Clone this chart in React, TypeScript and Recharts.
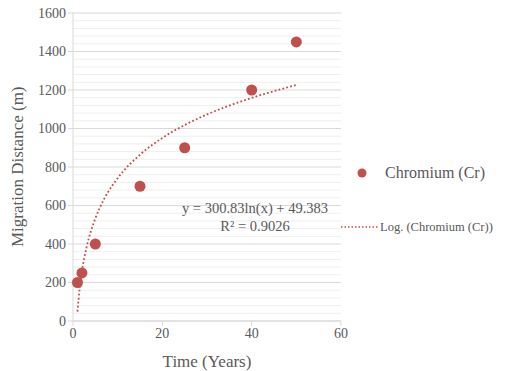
import React from "react";
import {
  ComposedChart,
  Scatter,
  Line,
  XAxis,
  YAxis,
  CartesianGrid,
  ReferenceLine,
} from "recharts";

const years = [1, 2, 5, 15, 25, 40, 50];
const distances = [200, 250, 400, 700, 900, 1200, 1450];

// log trendline
const trendYears = [1, 1.5, 2, 3, 4, 5, 7, 10, 15, 20, 25, 30, 35, 40, 45, 50];
const trendDistances = [49, 171, 258, 380, 466, 533, 635, 742, 864, 951, 1018, 1073, 1119, 1159, 1194, 1226];

const xTicks = [0, 20, 40, 60];
const yTicks = [0, 200, 400, 600, 800, 1000, 1200, 1400, 1600];
const yMinorTicks = [40, 80, 120, 160, 240, 280, 320, 360, 440, 480, 520, 560, 640, 680, 720, 760, 840, 880, 920, 960,
  1040, 1080, 1120, 1160, 1240, 1280, 1320, 1360, 1440, 1480, 1520, 1560];

const seriesName = "Chromium (Cr)";
const trendName = "Log. (Chromium (Cr))";
const equation = "y = 300.83ln(x) + 49.383";
const rSquared = "R² = 0.9026";

const red = "#C0504D";
const textGray = "#595959";
const font = "'Liberation Serif', serif";

const points = years.map((x, i) => ({ x, y: distances[i] }));
const trend = trendYears.map((x, i) => ({ x, y: trendDistances[i] }));

const LegendBox = () => (
  <div style={{ position: "absolute", left: 341, top: 161, width: 170, fontFamily: font, color: textGray }}>
    <div style={{ display: "flex", alignItems: "center", height: 24 }}>
      <svg width={40} height={12}>
        <circle cx={21} cy={6} r={4.5} fill={red} />
      </svg>
      <span style={{ fontSize: 16, marginLeft: 4 }}>{seriesName}</span>
    </div>
    <div style={{ display: "flex", alignItems: "center", height: 24, marginTop: 30 }}>
      <svg width={40} height={6}>
        <line x1={0} y1={3} x2={38} y2={3} stroke={red} strokeWidth={1.5} strokeDasharray="1.5 2" />
      </svg>
      <span style={{ fontSize: 12.5, marginLeft: -1 }}>{trendName}</span>
    </div>
  </div>
);

export default function App() {
  return (
    <div style={{ position: "absolute", left: 0, top: 0, width: 510, height: 371, background: "#fff" }}>
      <ComposedChart
        width={510}
        height={371}
        margin={{ top: 13, right: 169, bottom: 20, left: 13 }}
        style={{ fontFamily: font }}
      >
        {yMinorTicks.map((v) => (
          <ReferenceLine key={v} y={v} stroke="#EEEEEE" strokeWidth={1} />
        ))}
        <CartesianGrid vertical={false} stroke="#D9D9D9" />
        <XAxis
          type="number"
          dataKey="x"
          domain={[0, 60]}
          ticks={xTicks}
          stroke="#D9D9D9"
          tickSize={5}
          height={30}
          tick={{ fill: textGray, fontSize: 14, fontFamily: font }}
          label={{ value: "Time (Years)", position: "insideBottom", offset: -16, fill: textGray, fontSize: 17, fontFamily: font }}
        />
        <YAxis
          type="number"
          dataKey="y"
          domain={[0, 1600]}
          ticks={yTicks}
          stroke="#D9D9D9"
          tickSize={5}
          width={60}
          tick={{ fill: textGray, fontSize: 14, fontFamily: font }}
          label={{ value: "Migration Distance (m)", angle: -90, position: "insideLeft", dx: -1, dy: 80, fill: textGray, fontSize: 17, fontFamily: font }}
        />
        <Line
          data={trend}
          dataKey="y"
          type="monotone"
          stroke={red}
          strokeWidth={1.8}
          strokeDasharray="1.8 2.2"
          dot={false}
          activeDot={false}
          isAnimationActive={false}
          name={trendName}
        />
        <Scatter
          data={points}
          dataKey="y"
          fill={red}
          shape={(p: any) => <circle cx={p.cx} cy={p.cy} r={5.5} fill={red} />}
          isAnimationActive={false}
          name={seriesName}
        />
      </ComposedChart>
      <LegendBox />
      <div
        style={{
          position: "absolute",
          left: 150,
          top: 199,
          width: 210,
          textAlign: "center",
          fontFamily: font,
          fontSize: 14.5,
          lineHeight: "18px",
          color: textGray,
        }}
      >
        <div>{equation}</div>
        <div>{rSquared}</div>
      </div>
    </div>
  );
}
